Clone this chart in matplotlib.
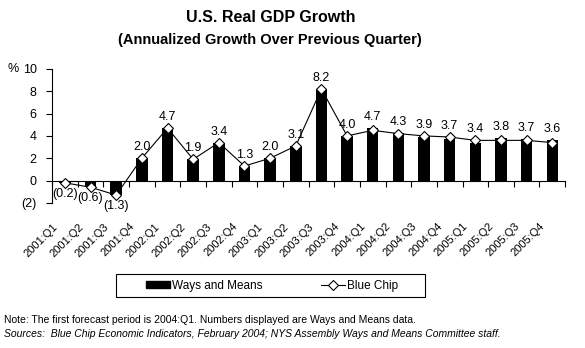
import numpy as np
import matplotlib.pyplot as plt
from matplotlib.patches import Patch, Rectangle
from matplotlib.lines import Line2D
from matplotlib.transforms import offset_copy

plt.rcParams['font.family'] = ['Liberation Sans', 'DejaVu Sans']

quarters = ['2001:Q1', '2001:Q2', '2001:Q3', '2001:Q4',
            '2002:Q1', '2002:Q2', '2002:Q3', '2002:Q4',
            '2003:Q1', '2003:Q2', '2003:Q3', '2003:Q4',
            '2004:Q1', '2004:Q2', '2004:Q3', '2004:Q4',
            '2005:Q1', '2005:Q2', '2005:Q3', '2005:Q4']
ways_means = [-0.2, -0.6, -1.3, 2.0, 4.7, 1.9, 3.4, 1.3, 2.0, 3.1, 8.2, 4.0,
              4.7, 4.3, 3.9, 3.7, 3.4, 3.8, 3.7, 3.6]
blue_chip = [-0.2, -0.6, -1.3, 2.0, 4.7, 1.9, 3.4, 1.3, 2.0, 3.1, 8.2, 4.0,
             4.5, 4.2, 4.0, 3.9, 3.6, 3.6, 3.6, 3.4]
y_ticks = [-2, 0, 2, 4, 6, 8, 10]
y_labels = ['(2)', '0', '2', '4', '6', '8', '10']

fig = plt.figure(figsize=(5.85, 3.48), dpi=100)
ax = fig.add_axes([0.089, 0.417, 0.877, 0.385])

x = np.arange(len(quarters))
ax.bar(x, ways_means, width=0.45, color='black', zorder=2)
ax.plot(x, blue_chip, color='black', lw=0.8, marker='D', ms=5.5,
        mfc='white', mec='black', mew=0.8, zorder=3)

# value labels (Ways and Means)
for i, v in enumerate(ways_means):
    top = max(v, blue_chip[i]) if v >= 0 else min(v, blue_chip[i])
    txt = f'{v:.1f}' if v >= 0 else f'({abs(v):.1f})'
    dy = 11 if v >= 0 else -11
    tr = offset_copy(ax.transData, fig=fig, x=0, y=dy * 72 / 100, units='points')
    ax.text(i, top, txt, transform=tr, ha='center', va='center', fontsize=9)

ax.set_xlim(-0.5, len(quarters) - 0.5)
ax.set_ylim(-2, 10)
ax.set_yticks(y_ticks)
ax.set_yticklabels(y_labels, fontsize=9)
ax.tick_params(axis='y', direction='out', length=4, width=0.8, pad=7)

for s in ['top', 'right']:
    ax.spines[s].set_visible(False)
ax.spines['bottom'].set_position(('data', 0))
ax.spines['left'].set_linewidth(0.8)
ax.spines['bottom'].set_linewidth(0.8)
ax.set_xticks(np.arange(len(quarters) + 1) - 0.5)
ax.set_xticklabels([])
ax.tick_params(axis='x', direction='out', length=4, width=0.8)

# rotated category labels below the plot
for i, q in enumerate(quarters):
    tr = offset_copy(ax.get_xaxis_transform(), fig=fig,
                     x=-9 * 0.72, y=-22 * 0.72, units='points')
    ax.text(i, 0, q, transform=tr, rotation=45, rotation_mode='anchor',
            ha='right', va='center', fontsize=8)

fig.text(7 / 585, 1 - 69 / 348, '%', fontsize=9, ha='left', va='center')

fig.text(0.462, 1 - 17 / 348, 'U.S. Real GDP Growth', fontsize=11.5,
         fontweight='bold', ha='center', va='center')
fig.text(0.462, 1 - 40 / 348, '(Annualized Growth Over Previous Quarter)',
         fontsize=10.5, fontweight='bold', ha='center', va='center')

# legend box
fig.add_artist(Rectangle((116 / 585, 1 - 297 / 348), 309 / 585, 23 / 348,
                         transform=fig.transFigure, fill=False,
                         edgecolor='black', lw=0.8))
handles = [Patch(facecolor='black', edgecolor='black', label='Ways and Means'),
           Line2D([], [], color='black', lw=0.8, marker='D', ms=5.5,
                  mfc='white', mec='black', mew=0.8, label='Blue Chip')]
fig.legend(handles=handles, loc='center', bbox_to_anchor=(272 / 585, 1 - 285.5 / 348),
           ncol=2, frameon=False, fontsize=8.5,
           handlelength=2.1, handleheight=0.55, columnspacing=4.9,
           borderpad=0.2, handletextpad=0.15)

fig.text(4 / 585, 1 - 320 / 348,
         'Note: The first forecast period is 2004:Q1. Numbers displayed are Ways and Means data.',
         fontsize=7.5, ha='left', va='center')
fig.text(4 / 585, 1 - 334 / 348,
         'Sources:  Blue Chip Economic Indicators, February 2004; NYS Assembly Ways and Means Committee staff.',
         fontsize=7.5, style='italic', ha='left', va='center')

fig.savefig('out.png', dpi=100)
